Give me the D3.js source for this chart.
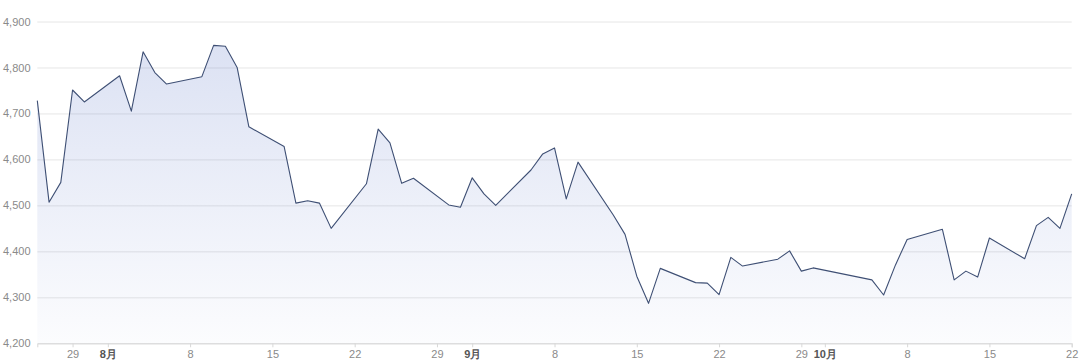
<!DOCTYPE html>
<html>
<head>
<meta charset="utf-8">
<script src="https://cdn.jsdelivr.net/npm/d3@7"></script>
<style>
  body { margin: 0; background: #fff; }
  svg { display: block; font-family: "Noto Sans", "Noto Sans CJK SC", sans-serif; }
</style>
</head>
<body>
<svg id="chart"></svg>
<script>
// daily closes, trading days only
const dates = [
  '2021-07-26','2021-07-27','2021-07-28','2021-07-29','2021-07-30',
  '2021-08-02','2021-08-03','2021-08-04','2021-08-05','2021-08-06',
  '2021-08-09','2021-08-10','2021-08-11','2021-08-12','2021-08-13',
  '2021-08-16','2021-08-17','2021-08-18','2021-08-19','2021-08-20',
  '2021-08-23','2021-08-24','2021-08-25','2021-08-26','2021-08-27',
  '2021-08-30','2021-08-31','2021-09-01','2021-09-02','2021-09-03',
  '2021-09-06','2021-09-07','2021-09-08','2021-09-09','2021-09-10',
  '2021-09-13','2021-09-14','2021-09-15','2021-09-16','2021-09-17',
  '2021-09-20','2021-09-21','2021-09-22','2021-09-23','2021-09-24',
  '2021-09-27','2021-09-28','2021-09-29','2021-09-30',
  '2021-10-05','2021-10-06','2021-10-07','2021-10-08',
  '2021-10-11','2021-10-12','2021-10-13','2021-10-14','2021-10-15',
  '2021-10-18','2021-10-19','2021-10-20','2021-10-21','2021-10-22'
];
const values = [
  4728, 4507, 4550, 4751, 4725,
  4782, 4705, 4834, 4789, 4764,
  4780, 4848, 4846, 4800, 4671,
  4628, 4505, 4510, 4505, 4450,
  4547, 4666, 4636, 4548, 4559,
  4501, 4496, 4560, 4525, 4500,
  4577, 4612, 4625, 4514, 4594,
  4479, 4437, 4346, 4287, 4363,
  4332, 4331, 4306, 4387, 4368,
  4383, 4401, 4357, 4364,
  4338, 4305, 4370, 4426,
  4448, 4338, 4357, 4344, 4429,
  4384, 4456, 4474, 4450, 4525
];
const yTicks = [4200, 4300, 4400, 4500, 4600, 4700, 4800, 4900];
const xTickDates = ['2021-07-29','2021-08-01','2021-08-08','2021-08-15','2021-08-22','2021-08-29',
  '2021-09-01','2021-09-08','2021-09-15','2021-09-22','2021-09-29',
  '2021-10-01','2021-10-08','2021-10-15','2021-10-22'];
const xTickLabels = ['29','8月','8','15','22','29','9月','8','15','22','29','10月','8','15','22'];

const parse = d3.timeParse('%Y-%m-%d');
const data = dates.map((d, i) => ({ date: parse(d), value: values[i] }));

const Width = 1080;
const Height = 364;
const Margin = { top: 21.5, right: 8.3, bottom: 20.7, left: 37.3 };

const svg = d3.select('#chart')
  .attr('width', Width)
  .attr('height', Height);

const x = d3.scaleTime()
  .domain([parse('2021-07-26'), parse('2021-10-22')])
  .range([Margin.left, Width - Margin.right]);
const y = d3.scaleLinear()
  .domain([4200, 4900])
  .range([Height - Margin.bottom, Margin.top]);

// gradient under the line
const grad = svg.append('defs').append('linearGradient')
  .attr('id', 'fill')
  .attr('gradientUnits', 'userSpaceOnUse')
  .attr('x1', 0).attr('x2', 0)
  .attr('y1', y(4900)).attr('y2', y(4200));
grad.append('stop').attr('offset', '0%').attr('stop-color', '#5470c6').attr('stop-opacity', 0.22);
grad.append('stop').attr('offset', '100%').attr('stop-color', '#5470c6').attr('stop-opacity', 0.02);

// y grid + labels
const yAxis = svg.append('g')
  .attr('transform', `translate(${Margin.left},0)`)
  .call(d3.axisLeft(y).tickValues(yTicks).tickSize(-(Width - Margin.left - Margin.right)).tickFormat(d3.format(',')).tickPadding(7));
yAxis.select('.domain').remove();
yAxis.selectAll('.tick line').attr('stroke', '#e6e6e6');
yAxis.selectAll('.tick text')
  .attr('x', -34.3)
  .attr('text-anchor', 'start')
  .attr('fill', '#8a8a8a')
  .style('font-size', '11px');

// area + line
svg.append('path')
  .datum(data)
  .attr('fill', 'url(#fill)')
  .attr('d', d3.area().x(d => x(d.date)).y0(y(4200)).y1(d => y(d.value)));

svg.append('path')
  .datum(data)
  .attr('fill', 'none')
  .attr('stroke', '#3e4f74')
  .attr('stroke-width', 1.1)
  .attr('stroke-linejoin', 'round')
  .attr('d', d3.line().x(d => x(d.date)).y(d => y(d.value)));

// x axis
const xAxis = svg.append('g')
  .attr('transform', `translate(0,${y(4200)})`)
  .call(d3.axisBottom(x)
    .tickValues(xTickDates.map(parse))
    .tickSize(4)
    .tickPadding(3)
    .tickFormat((d, i) => xTickLabels[i]));
xAxis.select('.domain').attr('stroke', '#d8d8d8');
xAxis.selectAll('.tick line').attr('stroke', '#d8d8d8');
xAxis.selectAll('.tick text')
  .attr('fill', (d, i) => xTickLabels[i].includes('月') ? '#555' : '#8a8a8a')
  .style('font-weight', (d, i) => xTickLabels[i].includes('月') ? 'bold' : 'normal')
  .style('font-size', '11px');
</script>
</body>
</html>
